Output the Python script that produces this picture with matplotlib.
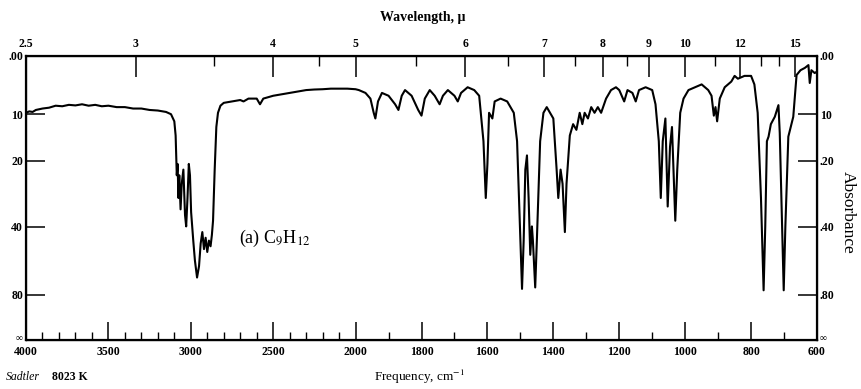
import numpy as np
import matplotlib.pyplot as plt
from matplotlib.transforms import ScaledTranslation

plt.rcParams['font.family'] = ['Liberation Serif', 'DejaVu Serif']
plt.rcParams['mathtext.fontset'] = 'stix'

# spectrum: wavenumber (cm-1) and transmittance (%)
nu = [4000, 3980, 3960, 3940, 3900, 3860, 3820, 3780, 3740, 3700, 3660, 3620,
      3580, 3540, 3500, 3450, 3400, 3350, 3300, 3250, 3200, 3150, 3120, 3100,
      3092, 3085, 3080, 3075, 3070, 3062, 3055, 3045, 3035, 3028, 3020, 3012,
      3005, 2998, 2985, 2975, 2962, 2950, 2940, 2930, 2920, 2910, 2900, 2890,
      2880, 2872, 2865, 2855, 2845, 2835, 2820, 2800, 2750, 2700, 2680, 2650,
      2600, 2580, 2560, 2500, 2450, 2400, 2350, 2300, 2250, 2200, 2150, 2100,
      2050, 2000,
      1990, 1970, 1955, 1945, 1940, 1932, 1920, 1900, 1880, 1870, 1860, 1850,
      1830, 1810, 1800, 1790, 1775, 1760, 1745, 1735, 1720, 1700, 1690, 1680,
      1660, 1640, 1625, 1612, 1605, 1600, 1595, 1585, 1578, 1560, 1540, 1520,
      1510, 1500, 1495, 1490, 1485, 1480, 1475, 1470, 1465, 1462, 1455, 1450,
      1440, 1430, 1420, 1400, 1390, 1385, 1378, 1372, 1365, 1360, 1350, 1340,
      1330, 1320, 1312, 1305, 1295, 1285, 1275, 1265, 1255, 1240, 1225, 1210,
      1200, 1185, 1175, 1160, 1150, 1140, 1120, 1100, 1090, 1080, 1074, 1068,
      1060, 1053, 1046, 1040, 1030, 1024, 1015, 1005, 990, 970, 950, 930,
      920, 913, 908, 903, 895, 880, 860, 850, 840, 820, 800, 790,
      780, 770, 762, 757, 752, 747, 740, 728, 717, 713, 707, 701,
      696, 687, 672, 662, 650, 637, 626, 622, 617, 607, 600]
trans = [80.0, 80.5, 80.3, 81.0, 81.5, 81.8, 82.5, 82.3, 82.8, 82.6, 83.0, 82.5,
         82.8, 82.3, 82.5, 82.0, 82.0, 81.5, 81.5, 81.0, 80.8, 80.3, 79.5, 77.0,
         72.0, 58.0, 62.0, 50.0, 58.0, 46.0, 55.0, 60.0, 44.0, 40.0, 50.0, 62.0,
         58.0, 45.0, 35.0, 28.0, 22.0, 26.0, 34.0, 38.0, 32.0, 36.0, 31.0, 35.0,
         33.0, 37.0, 42.0, 60.0, 75.0, 80.0, 82.5, 83.5, 84.0, 84.5, 84.0, 85.0,
         85.0, 83.0, 85.0, 86.0, 86.5, 87.0, 87.5, 88.0, 88.2, 88.3, 88.5, 88.5,
         88.5, 88.3,
         88.0, 87.0, 85.0, 80.0, 78.0, 84.0, 87.0, 86.0, 83.0, 81.0, 86.0, 88.0,
         86.0, 81.0, 79.0, 85.0, 88.0, 86.0, 83.0, 86.0, 88.0, 86.0, 84.0, 87.0,
         89.0, 88.0, 86.0, 70.0, 50.0, 62.0, 80.0, 78.0, 84.0, 85.0, 84.0, 80.0,
         70.0, 35.0, 18.0, 35.0, 60.0, 65.0, 50.0, 30.0, 40.0, 35.0, 18.5, 35.0,
         70.0, 80.0, 82.0, 78.0, 60.0, 50.0, 60.0, 55.0, 38.0, 55.0, 72.0, 76.0,
         74.0, 80.0, 76.0, 80.0, 78.0, 82.0, 80.0, 82.0, 80.0, 85.0, 88.0, 89.0,
         88.0, 84.0, 88.0, 87.0, 84.0, 88.0, 89.0, 88.0, 83.0, 70.0, 50.0, 70.0,
         78.0, 47.0, 68.0, 75.0, 42.0, 60.0, 80.0, 85.0, 88.0, 89.0, 90.0, 88.0,
         86.0, 79.0, 82.0, 77.0, 85.0, 89.0, 91.0, 93.0, 92.0, 93.0, 93.0, 90.0,
         80.0, 50.0, 17.5, 40.0, 70.0, 71.6, 76.0, 78.6, 82.7, 72.9, 45.0, 17.5,
         40.0, 71.6, 78.6, 93.3, 95.0, 95.8, 96.8, 90.5, 95.0, 94.0, 94.5]

# bottom axis ticks (cm-1)
freq_major = [4000, 3500, 3000, 2500, 2000, 1800, 1600, 1400, 1200, 1000, 800, 600]
freq_minor = [3900, 3800, 3700, 3600, 3400, 3300, 3200, 3100, 2900, 2800, 2700,
              2600, 2400, 2300, 2200, 2100, 1900, 1700, 1500, 1300, 1100, 900, 700]
# top axis ticks (microns)
wl_major = [2.5, 3, 4, 5, 6, 7, 8, 9, 10, 12, 15]
wl_labels = ['2.5', '3', '4', '5', '6', '7', '8', '9', '10', '12', '15']
wl_minor = [3.5, 4.5, 5.5, 6.5, 7.5, 8.5, 11, 13, 14]
# absorbance ticks
absorb = [0.0, 0.1, 0.2, 0.4, 0.8, np.inf]
left_labels = ['.00', '10', '20', '40', '80', '\u221e']
right_labels = ['.00', '10', '.20', '.40', '.80', '\u221e']


# chart paper: 4000-2000 cm-1 at half the scale of 2000-600 cm-1
def fwd(v):
    v = np.asarray(v, dtype=float)
    return np.where(v >= 2000, 2000 + (v - 2000) / 2.0, v)


def inv(u):
    u = np.asarray(u, dtype=float)
    return np.where(u >= 2000, 2000 + 2.0 * (u - 2000), u)


W, H = 861, 389
fig = plt.figure(figsize=(W / 100, H / 100), dpi=100)
ax = fig.add_axes([26 / W, 1 - 340 / H, (817 - 26) / W, (340 - 56) / H])
ax.set_xscale('function', functions=(fwd, inv))
ax.plot(nu, trans, color='black', lw=1.5)
ax.set_xlim(4000, 600)
ax.set_ylim(0, 100)

for s in ax.spines.values():
    s.set_linewidth(1.6)

ax.set_xticks(freq_major, [str(f) for f in freq_major])
ax.set_xticks(freq_minor, minor=True)
ax.tick_params(axis='x', which='major', direction='in', length=13, width=1.1,
               pad=4, labelsize=8.5)
ax.tick_params(axis='x', which='minor', direction='in', length=6, width=1.0)
for lbl in ax.get_xticklabels():
    lbl.set_fontweight('bold')

tick_T = [100 * 10 ** (-a) for a in absorb]
ax.set_yticks(tick_T, left_labels)
ax.tick_params(axis='y', direction='in', length=14, width=1.1, pad=2, labelsize=8.5)
for lbl in ax.get_yticklabels():
    lbl.set_fontweight('bold')

ax_r = ax.twinx()
ax_r.set_ylim(0, 100)
ax_r.set_yticks(tick_T, right_labels)
ax_r.tick_params(axis='y', direction='in', length=14, width=1.1, pad=2, labelsize=8.5)
for lbl in ax_r.get_yticklabels():
    lbl.set_fontweight('bold')

# small infinity signs sitting just above the bottom spine level
up = ScaledTranslation(0, 2 / 72, fig.dpi_scale_trans)
for lbl in (ax.get_yticklabels()[-1], ax_r.get_yticklabels()[-1]):
    lbl.set_fontsize(7)
    lbl.set_transform(lbl.get_transform() + up)

ax_t = ax.twiny()
ax_t.set_xscale('function', functions=(fwd, inv))
ax_t.set_xlim(4000, 600)
ax_t.set_xticks([10000 / w for w in wl_major], wl_labels)
ax_t.set_xticks([10000 / w for w in wl_minor], minor=True)
ax_t.tick_params(axis='x', which='major', direction='in', length=15, width=1.1,
                 pad=4, labelsize=8.5)
ax_t.tick_params(axis='x', which='minor', direction='in', length=7, width=1.0)
for lbl in ax_t.get_xticklabels():
    lbl.set_fontweight('bold')

fig.text(423 / W, 1 - 17 / H, 'Wavelength, \u03bc', ha='center', va='center',
         fontsize=10, fontweight='bold')
fig.text(848 / W, 1 - 212 / H, 'Absorbance', ha='center', va='center',
         rotation=270, fontsize=12.5)
fig.text(420 / W, 1 - 377 / H, r'Frequency, cm$^{-1}$', ha='center', va='center',
         fontsize=9.5)
fig.text(6 / W, 1 - 377 / H, 'Sadtler', ha='left', va='center', fontsize=8.5,
         style='italic')
fig.text(52 / W, 1 - 377 / H, '8023 K', ha='left', va='center', fontsize=8.5,
         fontweight='bold')
fig.text(275 / W, 1 - 238 / H, r'(a) C$_9$H$_{12}$', ha='center', va='center',
         fontsize=13)

fig.savefig('out.png', dpi=100)
